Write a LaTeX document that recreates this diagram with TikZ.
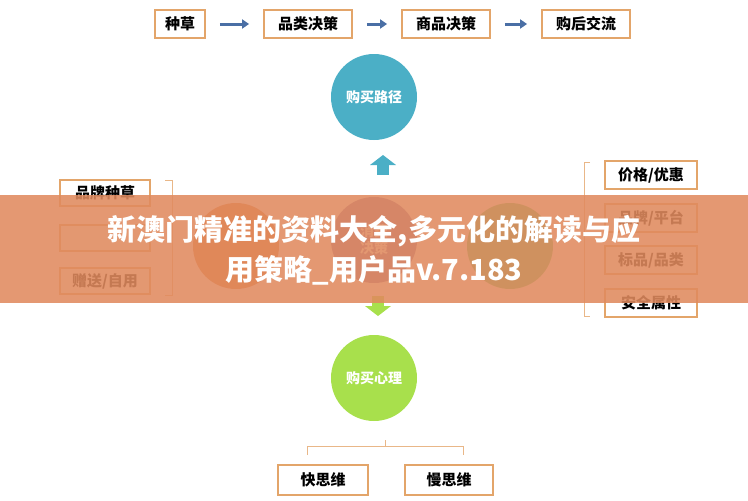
\documentclass[tikz,border=0pt]{standalone}
\usepackage{fontspec}
\setmainfont{Noto Sans CJK SC}
\usetikzlibrary{arrows.meta, positioning, calc}
\definecolor{boxEdge}{HTML}{E3A56A}
\definecolor{pathBlue}{HTML}{4BAFC6}
\definecolor{arrowBlue}{HTML}{4A6FA5}
\definecolor{heartGreen}{HTML}{A8E04C}
\definecolor{mixOrange}{HTML}{E87A3A}
\definecolor{mixPurple}{HTML}{8E6BB0}
\definecolor{mixGreen}{HTML}{5BCB6B}
\definecolor{bannerOrange}{HTML}{E08A5E}
\tikzset{
    tagbox/.style={draw=boxEdge, line width=1.8pt, fill=white, minimum width=88pt, minimum height=28pt, font=\bfseries\fontsize{15}{15}\selectfont, inner sep=0pt},
    flowarrow/.style={-{Triangle[length=7pt,width=9pt]}, arrowBlue, line width=3pt},
    bubble/.style={circle, minimum size=86pt, inner sep=0pt, text=white, font=\bfseries\fontsize{14}{17}\selectfont, align=center},
    bracket/.style={draw=boxEdge!80, line width=0.8pt}
}
\newcommand{\DrawBlockArrow}[4]{
    % #1 x, #2 y of tip, #3 direction (1 up, -1 down), #4 colour
    \fill[#4] (#1-6,#2+#3*10) rectangle (#1+6,#2+#3*20);
    \fill[#4] (#1-13,#2+#3*10) -- (#1,#2) -- (#1+13,#2+#3*10) -- cycle;
}
\begin{document}
\begin{tikzpicture}[x=1pt, y=-1pt]
    \useasboundingbox (0,0) rectangle (748,501);

    % Top flow
    \node[tagbox, minimum width=50pt] (grass) at (180,24) {种草};
    \node[tagbox] (cat) at (308,24) {品类决策};
    \node[tagbox] (goods) at (446,24) {商品决策};
    \node[tagbox] (after) at (586,24) {购后交流};
    \draw[flowarrow] ([xshift=14pt]grass.east) -- ([xshift=-14pt]cat.west);
    \draw[flowarrow] ([xshift=14pt]cat.east) -- ([xshift=-14pt]goods.west);
    \draw[flowarrow] ([xshift=14pt]goods.east) -- ([xshift=-14pt]after.west);

    % Circles
    \node[bubble, fill=pathBlue] (path) at (374,97) {购买路径};
    \node[bubble, fill=mixOrange] (left) at (236,246) {};
    \node[bubble, fill=mixPurple] (mid) at (374,240) {消费\\决策};
    \node[bubble, fill=mixGreen] (right) at (510,246) {};
    \node[bubble, fill=heartGreen] (heart) at (374,378) {购买心理};
    \DrawBlockArrow{383}{155}{1}{pathBlue}
    \DrawBlockArrow{378}{316}{-1}{heartGreen}

    % Left tags
    \node[tagbox, minimum width=90pt, minimum height=26pt] (brand) at (105,193) {品牌种草};
    \node[tagbox, minimum width=90pt, minimum height=26pt] (self) at (105,238) {};
    \node[tagbox, minimum width=90pt, minimum height=26pt] (gift) at (105,281) {赠送/自用};
    \draw[bracket] (165,180) -- (172,180) -- (172,295) -- (165,295);

    % Right tags
    \node[tagbox, minimum width=92pt] (price) at (651,175) {价格/优惠};
    \node[tagbox, minimum width=92pt] (shop) at (651,218) {品牌/平台};
    \node[tagbox, minimum width=92pt] (std) at (651,260) {标品/品类};
    \node[tagbox, minimum width=92pt] (safe) at (651,303) {安全属性};
    \draw[bracket] (590,162) -- (584,162) -- (584,316) -- (590,316);

    % Bottom tags
    \node[tagbox, minimum width=90pt, minimum height=30pt] (fast) at (323,480) {快思维};
    \node[tagbox, minimum width=88pt, minimum height=30pt] (slow) at (449,480) {慢思维};
    \draw[bracket] (307,455) -- (307,446) -- (463,446) -- (463,455);
    \draw[bracket] (385,446) -- (385,440);

    % Banner
    \fill[bannerOrange, opacity=0.88] (0,195) rectangle (748,303);
    \node[text=white, font=\bfseries\fontsize{29}{40}\selectfont, align=center] (banner) at (374,250) {新澳门精准的资料大全,多元化的解读与应\\用策略\_用户品v.7.183};
\end{tikzpicture}
\end{document}
